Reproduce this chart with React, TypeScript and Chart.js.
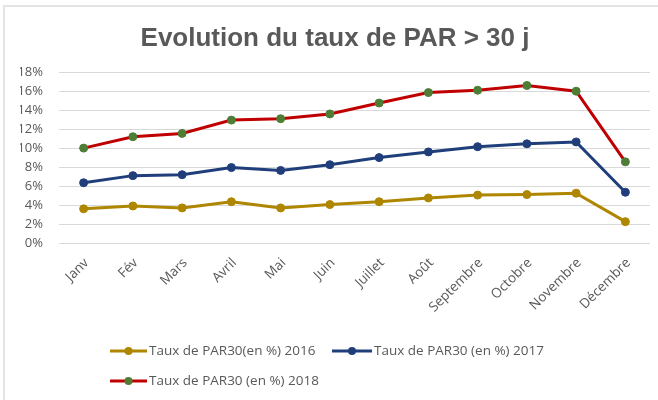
import React, { useEffect, useRef } from "react";
import { Chart, registerables } from "chart.js";

Chart.register(...registerables);

// ---- data ----
const months = [
  "Janv", "Fév", "Mars", "Avril", "Mai", "Juin",
  "Juillet", "Août", "Septembre", "Octobre", "Novembre", "Décembre",
];
const par2016 = [3.6, 3.9, 3.7, 4.35, 3.7, 4.05, 4.35, 4.75, 5.05, 5.1, 5.25, 2.25];
const par2017 = [6.35, 7.1, 7.2, 7.95, 7.65, 8.25, 9.0, 9.6, 10.15, 10.45, 10.65, 5.35];
const par2018 = [10.0, 11.2, 11.55, 12.95, 13.1, 13.6, 14.75, 15.85, 16.1, 16.6, 16.0, 8.55];
const seriesLabels = [
  "Taux de PAR30(en %) 2016",
  "Taux de PAR30 (en %) 2017",
  "Taux de PAR30 (en %) 2018",
];
const yMin = 0;
const yMax = 18;
const yStep = 2;
const titleText = "Evolution du taux de PAR > 30 j";

// ---- styles ----
const TEXT = "#595959";
const GRID = "#D9D9D9";
const GOLD = "#AE8600";
const BLUE = "#203F7A";
const RED = "#C00000";
const GREEN = "#4E7D35";
const FONT = "'Open Sans', 'Liberation Sans', sans-serif";

// legend layout: rows of [datasetIndex, lineStartX, lineLength]
const legendRows: { y: number; items: [number, number, number][] }[] = [
  { y: 351, items: [[0, 110, 37], [1, 332, 40]] },
  { y: 381, items: [[2, 110, 37]] },
];

const legendPlugin = {
  id: "customLegend",
  afterDraw(chart: any) {
    const ctx = chart.ctx;
    ctx.save();
    ctx.font = `13.5px ${FONT}`;
    ctx.textBaseline = "middle";
    ctx.textAlign = "left";
    for (const row of legendRows) {
      for (const [di, x, len] of row.items) {
        const ds = chart.data.datasets[di];
        ctx.strokeStyle = ds.borderColor;
        ctx.lineWidth = 3;
        ctx.lineCap = "butt";
        ctx.beginPath();
        ctx.moveTo(x, row.y);
        ctx.lineTo(x + len, row.y);
        ctx.stroke();
        ctx.fillStyle = ds.pointBackgroundColor;
        ctx.beginPath();
        ctx.arc(x + len / 2, row.y, 4, 0, Math.PI * 2);
        ctx.fill();
        ctx.fillStyle = TEXT;
        ctx.fillText(ds.label, x + len + 2, row.y);
      }
    }
    ctx.restore();
  },
};

export default function App() {
  const ref = useRef<HTMLCanvasElement | null>(null);

  useEffect(() => {
    if (!ref.current) return;
    const mk = (label: string, data: number[], line: string, point: string) => ({
      label,
      data,
      borderColor: line,
      backgroundColor: line,
      pointBackgroundColor: point,
      pointBorderColor: point,
      borderWidth: 3,
      pointRadius: 4,
      pointBorderWidth: 1,
      tension: 0,
      fill: false,
    });
    const chart = new Chart(ref.current, {
      type: "line",
      data: {
        labels: months,
        datasets: [
          mk(seriesLabels[0], par2016, GOLD, GOLD),
          mk(seriesLabels[1], par2017, BLUE, BLUE),
          mk(seriesLabels[2], par2018, RED, GREEN),
        ],
      },
      options: {
        responsive: false,
        animation: false,
        devicePixelRatio: 1,
        layout: { padding: { left: 20, right: 8, top: 0, bottom: 67 } },
        plugins: {
          legend: { display: false },
          tooltip: { enabled: false },
          title: {
            display: true,
            text: titleText,
            color: TEXT,
            font: { family: "'Liberation Sans', Arial, sans-serif", size: 26, weight: "bold", lineHeight: 1.2 },
            padding: { top: 23, bottom: 18 },
          },
        },
        scales: {
          x: {
            offset: true,
            grid: { display: false },
            border: { display: false },
            ticks: {
              color: TEXT,
              font: { family: FONT, size: 13.5 },
              minRotation: 45,
              maxRotation: 45,
              autoSkip: false,
              padding: 4,
              labelOffset: 3,
            },
            afterFit: (scale: any) => {
              scale.height = 90;
            },
          },
          y: {
            min: yMin,
            max: yMax,
            grid: { color: GRID, lineWidth: 1, drawTicks: false },
            border: { display: false },
            ticks: {
              stepSize: yStep,
              color: TEXT,
              font: { family: FONT, size: 13 },
              padding: 16,
              callback: (v: any) => `${v}%`,
            },
            afterFit: (scale: any) => {
              scale.width = 39;
            },
          },
        },
      },
      plugins: [legendPlugin],
    });
    return () => chart.destroy();
  }, []);

  return (
    <div style={{ position: "fixed", left: 0, top: 0, width: 658, height: 400, background: "#fff" }}>
      <div
        style={{
          position: "absolute", left: 3, top: 5, right: 0, bottom: 0,
          borderLeft: "2px solid #E4E4E4", borderTop: "2px solid #E4E4E4",
          pointerEvents: "none",
        }}
      />
      <canvas ref={ref} width={658} height={400} style={{ position: "absolute", left: 0, top: 0, width: 658, height: 400 }} />
    </div>
  );
}
